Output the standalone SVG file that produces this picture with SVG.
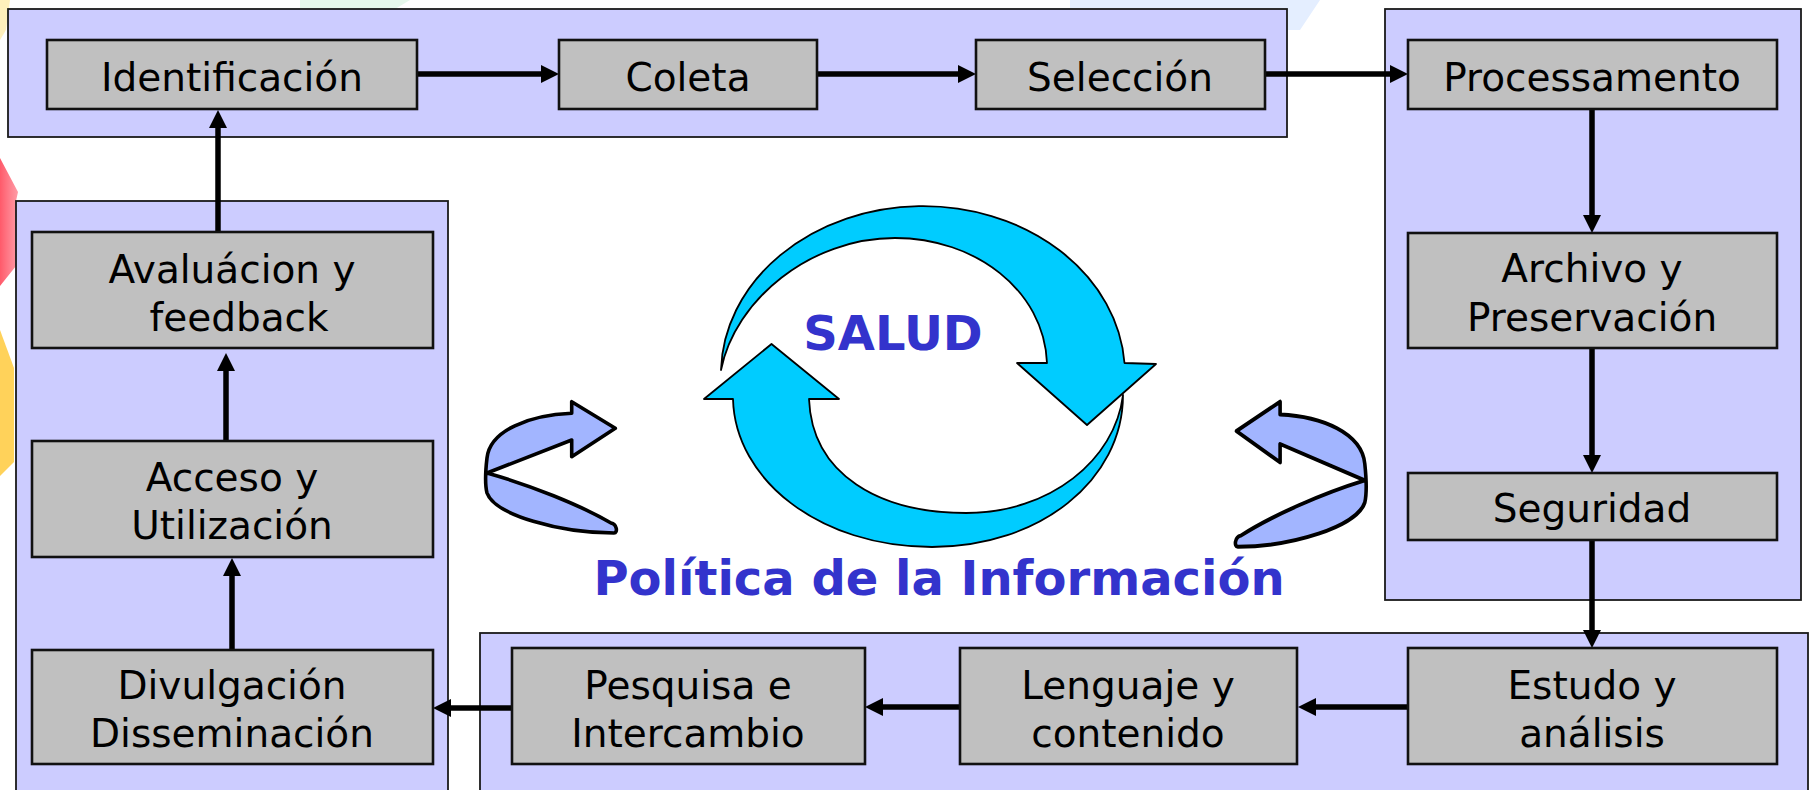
<svg xmlns="http://www.w3.org/2000/svg" width="1820" height="790" viewBox="0 0 1820 790">
<style>
.panel{fill:#CCCCFF;stroke:#1a1a1a;stroke-width:1.8}
.box{fill:#C0C0C0;stroke:#111;stroke-width:2.6}
.lbl{font-family:"DejaVu Sans",Verdana,sans-serif;font-size:39px;fill:#000;text-anchor:middle}
.title{font-family:"DejaVu Sans",Verdana,sans-serif;font-weight:bold;font-size:48px;fill:#3333CC;text-anchor:middle}
.conn{stroke:#000;stroke-width:5.5;fill:none}
.cyan{fill:#00CCFF;stroke:#000;stroke-width:1.8;stroke-linejoin:round}
.loop{fill:#A2B5FF;stroke:#000;stroke-width:3.6;stroke-linejoin:round}
</style>
<defs>
<marker id="ah" viewBox="0 0 18 18" refX="1" refY="9" markerWidth="18" markerHeight="18" markerUnits="userSpaceOnUse" orient="auto">
<path d="M0,0 L18,9 L0,18 Z" fill="#000"/>
</marker>
<linearGradient id="redg" x1="0" y1="0" x2="1" y2="0">
<stop offset="0" stop-color="#FF5A6A"/><stop offset="1" stop-color="#FF7080" stop-opacity="0.7"/>
</linearGradient>
</defs>
<rect width="1820" height="790" fill="#FFFFFF"/>
<g id="watermark">
<path d="M0,158 L18,192 L16,201 L16,266 L0,286 Z" fill="url(#redg)"/>
<path d="M0,330 L14,368 L14,462 L0,476 Z" fill="#FFD25A"/>
<path d="M0,0 L10,0 L6,30 L0,40 Z" fill="#FFE9A0" opacity="0.7"/>
<path d="M300,0 L410,0 L395,9 L300,9 Z" fill="#E6F8EC"/>
<path d="M1070,0 L1320,0 L1300,30 L1288,30 L1288,9 L1070,9 Z" fill="#E4EEFF"/>
</g>
<g id="panels">
<rect id="panel-top" class="panel" x="8" y="9" width="1279" height="128"/>
<rect id="panel-right" class="panel" x="1385" y="9" width="416" height="591"/>
<rect id="panel-bottom" class="panel" x="480" y="633" width="1328" height="170"/>
<rect id="panel-left" class="panel" x="16" y="201" width="432" height="600"/>
</g>
<g id="cycle">
<path id="cycle-bottom" class="cyan" d="M771.5,344 L839,399 L809,399 C812,475 880,513 966,513 C1050,513 1115,460 1123,395 C1123,480 1040,547 932,547 C820,547 735,480 733,399 L704,399 Z"/>
<path id="cycle-top" class="cyan" d="M721,370 A202,168 0 0 1 1124.5,363 L1156,364 L1087,425 L1017,363 L1047,363 C1044,290 975,238 895,238 C810,238 735,300 721,370 Z"/>
<path id="loop-left" class="loop" d="M571.7,413.3 C530,415 490,430 487,458 C485,475 485,485 487,493 C495,515 560,533 614,533 C618,533 617,524 611,523 C580,505 530,485 487,473 L571.7,440 L571.7,456.7 L615.3,428.3 L571.7,401.7 Z"/>
<path id="loop-right" class="loop" transform="translate(1851.8,401.7) scale(-1,1.104) translate(0,-401.7)" d="M571.7,413.3 C530,415 490,430 487,458 C485,475 485,485 487,493 C495,515 560,533 614,533 C618,533 617,524 611,523 C580,505 530,485 487,473 L571.7,440 L571.7,456.7 L615.3,428.3 L571.7,401.7 Z"/>
<text class="title" x="893" y="350">SALUD</text>
<text class="title" x="939" y="595">Política de la Información</text>
</g>
<g id="connectors">
<line class="conn" x1="417" y1="74" x2="542" y2="74" marker-end="url(#ah)"/>
<line class="conn" x1="817" y1="74" x2="959" y2="74" marker-end="url(#ah)"/>
<line class="conn" x1="1265" y1="74" x2="1391" y2="74" marker-end="url(#ah)"/>
<line class="conn" x1="1592" y1="109" x2="1592" y2="216" marker-end="url(#ah)"/>
<line class="conn" x1="1592" y1="348" x2="1592" y2="456" marker-end="url(#ah)"/>
<line class="conn" x1="1592" y1="540" x2="1592" y2="631" marker-end="url(#ah)"/>
<line class="conn" x1="1408" y1="707" x2="1315" y2="707" marker-end="url(#ah)"/>
<line class="conn" x1="960" y1="707" x2="882" y2="707" marker-end="url(#ah)"/>
<line class="conn" x1="512" y1="708" x2="450" y2="708" marker-end="url(#ah)"/>
<line class="conn" x1="232" y1="650" x2="232" y2="575" marker-end="url(#ah)"/>
<line class="conn" x1="226" y1="441" x2="226" y2="370" marker-end="url(#ah)"/>
<line class="conn" x1="218" y1="232" x2="218" y2="127" marker-end="url(#ah)"/>
</g>
<g id="n-identificacion"><rect class="box" x="47" y="40" width="370" height="69"/><text class="lbl" x="232" y="91">Identificación</text></g>
<g id="n-coleta"><rect class="box" x="559" y="40" width="258" height="69"/><text class="lbl" x="688" y="91">Coleta</text></g>
<g id="n-seleccion"><rect class="box" x="976" y="40" width="289" height="69"/><text class="lbl" x="1120" y="91">Selección</text></g>
<g id="n-processamento"><rect class="box" x="1408" y="40" width="369" height="69"/><text class="lbl" x="1592" y="91">Processamento</text></g>
<g id="n-archivo"><rect class="box" x="1408" y="233" width="369" height="115"/><text class="lbl" x="1592" y="282">Archivo y</text><text class="lbl" x="1592" y="331">Preservación</text></g>
<g id="n-seguridad"><rect class="box" x="1408" y="473" width="369" height="67"/><text class="lbl" x="1592" y="522">Seguridad</text></g>
<g id="n-estudo"><rect class="box" x="1408" y="648" width="369" height="116"/><text class="lbl" x="1592" y="699">Estudo y</text><text class="lbl" x="1592" y="747">análisis</text></g>
<g id="n-lenguaje"><rect class="box" x="960" y="648" width="337" height="116"/><text class="lbl" x="1128" y="699">Lenguaje y</text><text class="lbl" x="1128" y="747">contenido</text></g>
<g id="n-pesquisa"><rect class="box" x="512" y="648" width="353" height="116"/><text class="lbl" x="688" y="699">Pesquisa e</text><text class="lbl" x="688" y="747">Intercambio</text></g>
<g id="n-divulgacion"><rect class="box" x="32" y="650" width="401" height="114"/><text class="lbl" x="232" y="699">Divulgación</text><text class="lbl" x="232" y="747">Disseminación</text></g>
<g id="n-acceso"><rect class="box" x="32" y="441" width="401" height="116"/><text class="lbl" x="232" y="491">Acceso y</text><text class="lbl" x="232" y="539">Utilización</text></g>
<g id="n-avaluacion"><rect class="box" x="32" y="232" width="401" height="116"/><text class="lbl" x="232" y="283">Avaluácion y</text><text class="lbl" x="239" y="331">feedback</text></g>
</svg>
